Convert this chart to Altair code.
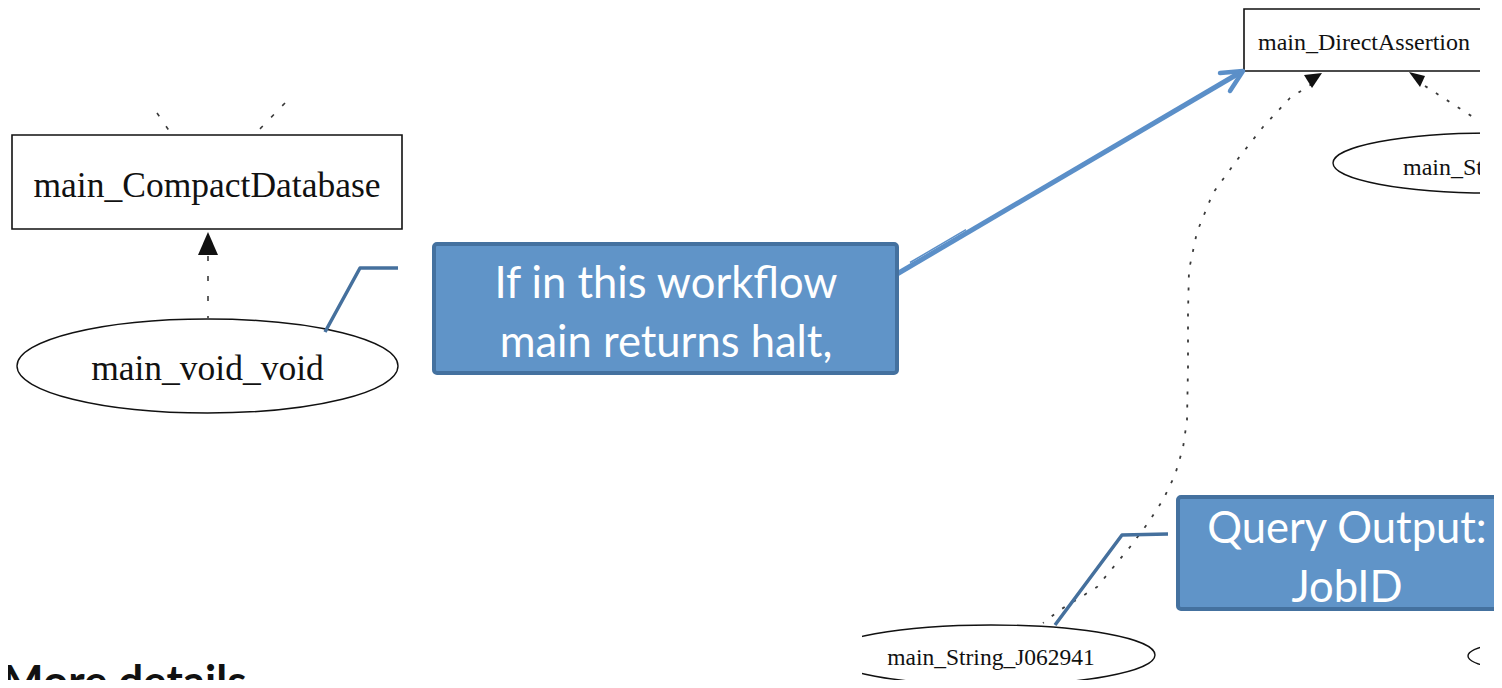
import altair as alt
import pandas as pd

# ---------------- canvas (diagram coordinates, y grows downward) ----------------
W, H = 1486, 672
XD = [8, 1494]
YD = [8, 680]

# ---------------- nodes ----------------
RECT_LABEL = ["main_CompactDatabase", "main_DirectAssertion"]
RECT_X0 = [12, 1244]
RECT_X1 = [402, 1540]
RECT_Y0 = [135, 9]
RECT_Y1 = [229, 71]

ELL_LABEL = ["main_void_void", "main_S", "main_String_J062941", "next"]
ELL_CX = [207.5, 1490, 991, 1600]
ELL_CY = [366, 163, 655, 656]
ELL_RX = [190.5, 157, 164, 132]
ELL_RY = [47, 30, 30, 20]

NODE_TEXT = ["main_CompactDatabase", "main_void_void", "main_DirectAssertion", "main_String_J062941"]
NODE_TX = [207, 207.5, 1364, 991]
NODE_TY = [197, 380, 50, 665]
NODE_FS = [35.5, 35.5, 24, 23.5]

CUT_TEXT = ["main_String"]
CUT_TX = [1403]
CUT_TY = [175]
CUT_FS = [24]

# ---------------- dotted edges ----------------
EDGE_VERT_X = [208, 208]
EDGE_VERT_Y = [256, 318]
EDGE_UP_A_X = [157, 170]
EDGE_UP_A_Y = [113, 132]
EDGE_UP_B_X = [285, 257]
EDGE_UP_B_Y = [103, 132]
CURVE_X = [1312, 1290, 1263, 1237, 1213, 1197, 1189, 1188, 1188, 1187, 1183, 1175, 1163, 1148, 1130, 1097, 1060, 1043]
CURVE_Y = [84, 98, 127, 160, 193, 232, 270, 313, 367, 420, 448, 475, 500, 523, 547, 587, 610, 623]
EDGE_S_X = [1425, 1476]
EDGE_S_Y = [86, 119]

# arrowheads (anchor + unit path, 1 unit = 10 px)
HEAD_X = [208, 1313, 1417]
HEAD_Y = [243, 80, 80]
HEAD_PATH = ["M 0 -1.1 L 1 1.2 L -1 1.2 Z",
             "M -0.9 -0.5 L 0.9 -0.7 L -0.1 0.8 Z",
             "M -0.8 -0.8 L 0.8 -0.4 L 0.3 0.7 Z"]

# crop masks (the screenshot of the graph is cut at these edges)
MASK_X0 = [1480, 1480, 815]
MASK_X1 = [1500, 1500, 862]
MASK_Y0 = [0, 615, 600]
MASK_Y1 = [240, 690, 690]

# ---------------- callouts ----------------
CALL_X0 = [434, 1178]
CALL_X1 = [897, 1516]
CALL_Y0 = [244, 497]
CALL_Y1 = [373, 609]

CALL_TEXT = ["If in this workflow", "main returns halt,", "Query Output:", "JobID"]
CALL_TX = [666, 666, 1347, 1347]
CALL_TY = [298, 357, 543, 602]

LEAD1_X = [325, 360, 398]
LEAD1_Y = [332, 268, 268]
LEAD2_X = [1055, 1122, 1168]
LEAD2_Y = [625, 535, 534]

ARROW_X = [897, 1241]
ARROW_Y = [274, 72]
ARROW_HEAD_X = [1220, 1243, 1230]
ARROW_HEAD_Y = [73, 71, 91]
ARROW_THIN_X = [910, 966]
ARROW_THIN_Y = [262.5, 229.6]

FOOT_TEXT = ["More details"]
FOOT_X = [2]
FOOT_Y = [697]

# ---------------- helpers ----------------
XS = alt.Scale(domain=XD, nice=False, zero=False)
YS = alt.Scale(domain=YD, nice=False, zero=False, reverse=True)


def X(f="x"):
    return alt.X(f"{f}:Q", scale=XS, axis=None)


def Y(f="y"):
    return alt.Y(f"{f}:Q", scale=YS, axis=None)


def polyline(xs, ys, name):
    return pd.DataFrame({"x": xs, "y": ys, "i": list(range(len(xs))), "edge": name})


def line_layer(df, color, width, dash=None, cap="butt"):
    kw = dict(color=color, strokeWidth=width, strokeCap=cap, strokeJoin="round", clip=True)
    if dash is not None:
        kw["strokeDash"] = dash
    return alt.Chart(df).mark_line(**kw).encode(
        x=X(), y=Y(), detail="edge:N", order="i:Q")


def rect_layer(df, fill, stroke, sw, radius=0):
    return alt.Chart(df).mark_rect(fill=fill, stroke=stroke, strokeWidth=sw,
                                   cornerRadius=radius, clip=True, opacity=1).encode(
        x=X("x0"), x2=alt.X2("x1"), y=Y("y0"), y2=alt.Y2("y1"))


# ---------------- data frames ----------------
rects = pd.DataFrame({"x0": RECT_X0, "x1": RECT_X1, "y0": RECT_Y0, "y1": RECT_Y1, "n": RECT_LABEL})

ell = pd.DataFrame({"x": ELL_CX, "y": ELL_CY, "rx": ELL_RX, "ry": ELL_RY, "n": ELL_LABEL})
ell["sz"] = (2 * ell["rx"]) ** 2
ell["path"] = [f"M -1 0 A 1 {ry / rx:.4f} 0 1 1 1 0 A 1 {ry / rx:.4f} 0 1 1 -1 0"
               for rx, ry in zip(ELL_RX, ELL_RY)]

heads = pd.DataFrame({"x": HEAD_X, "y": HEAD_Y, "path": HEAD_PATH, "sz": [400] * 3})

node_txt = pd.DataFrame({"x": NODE_TX, "y": NODE_TY, "t": NODE_TEXT, "fs": NODE_FS})
cut_txt = pd.DataFrame({"x": CUT_TX, "y": CUT_TY, "t": CUT_TEXT, "fs": CUT_FS})

masks = pd.DataFrame({"x0": MASK_X0, "x1": MASK_X1, "y0": MASK_Y0, "y1": MASK_Y1})
calls = pd.DataFrame({"x0": CALL_X0, "x1": CALL_X1, "y0": CALL_Y0, "y1": CALL_Y1})
call_txt = pd.DataFrame({"x": CALL_TX, "y": CALL_TY, "t": CALL_TEXT})
foot = pd.DataFrame({"x": FOOT_X, "y": FOOT_Y, "t": FOOT_TEXT})

short_edges = pd.concat([polyline(EDGE_UP_A_X, EDGE_UP_A_Y, "a"),
                         polyline(EDGE_UP_B_X, EDGE_UP_B_Y, "b")])
vert_edge = polyline(EDGE_VERT_X, EDGE_VERT_Y, "v")
curve = pd.concat([polyline(CURVE_X, CURVE_Y, "c"),
                   polyline(EDGE_S_X, EDGE_S_Y, "s")])
leads = pd.concat([polyline(LEAD1_X, LEAD1_Y, "l1"), polyline(LEAD2_X, LEAD2_Y, "l2")])
arrow = polyline(ARROW_X, ARROW_Y, "arr")
arrow_head = polyline(ARROW_HEAD_X, ARROW_HEAD_Y, "head")
arrow_thin = polyline(ARROW_THIN_X, ARROW_THIN_Y, "thin")

EDGE_C = "#3a3a3a"
CALL_FILL = "#6094C8"
CALL_BORDER = "#44719F"
LEAD_C = "#45709D"
ARROW_C = "#5B8FC8"

layers = [
    line_layer(short_edges, EDGE_C, 1.6, [4, 12]),
    line_layer(vert_edge, EDGE_C, 1.6, [5, 15]),
    line_layer(curve, EDGE_C, 1.8, [3, 10]),
    rect_layer(rects, "white", "#111", 1.6),
    alt.Chart(ell).mark_point(filled=True, fill="white", stroke="#111", strokeWidth=1.4,
                              opacity=1, fillOpacity=1, clip=True).encode(
        x=X(), y=Y(), shape=alt.Shape("path:N", scale=None), size=alt.Size("sz:Q", scale=None)),
    alt.Chart(heads).mark_point(filled=True, fill="#111", opacity=1, strokeWidth=0).encode(
        x=X(), y=Y(), shape=alt.Shape("path:N", scale=None), size=alt.Size("sz:Q", scale=None)),
    alt.Chart(node_txt).mark_text(font="Liberation Serif", baseline="alphabetic",
                                  align="center", color="#111").encode(
        x=X(), y=Y(), text="t:N", size=alt.Size("fs:Q", scale=None)),
    alt.Chart(cut_txt).mark_text(font="Liberation Serif", baseline="alphabetic",
                                 align="left", color="#111").encode(
        x=X(), y=Y(), text="t:N", size=alt.Size("fs:Q", scale=None)),
    rect_layer(masks, "white", "white", 0),
    line_layer(leads, LEAD_C, 3.5),
    line_layer(arrow, ARROW_C, 5),
    line_layer(arrow_thin, ARROW_C, 1.5),
    line_layer(arrow_head, ARROW_C, 4.5, cap="round"),
    rect_layer(calls, CALL_FILL, CALL_BORDER, 4, radius=3),
    alt.Chart(call_txt).mark_text(font="Lato", fontSize=43.5, baseline="alphabetic",
                                  align="center", color="white").encode(
        x=X(), y=Y(), text="t:N"),
    alt.Chart(foot).mark_text(font="Lato", fontSize=44, fontWeight="bold",
                              baseline="alphabetic", align="left", color="#111").encode(
        x=X(), y=Y(), text="t:N"),
]

chart = alt.layer(*layers).properties(
    width=W, height=H, padding=0, autosize="none", background="white"
).configure_view(stroke=None)

chart.save("out.html", embed_options={"renderer": "svg", "actions": False})
